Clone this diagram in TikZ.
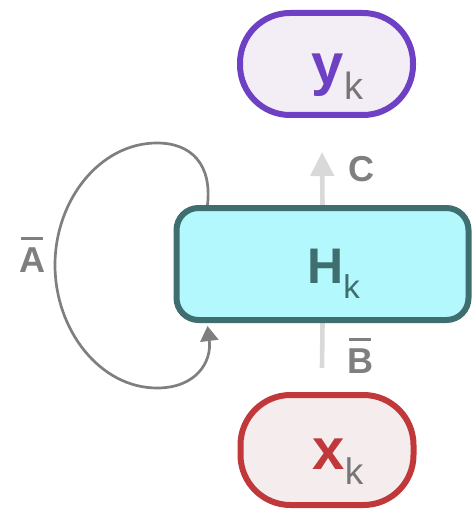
\documentclass[tikz,border=0pt]{standalone}
\usepackage{fontspec}
\setmainfont{Liberation Sans}
\usetikzlibrary{arrows.meta,backgrounds}
\definecolor{plum}{HTML}{6E40C4}
\definecolor{lav}{HTML}{F3EDF5}
\definecolor{tealdk}{HTML}{3F6E70}
\definecolor{aqua}{HTML}{B3F8FC}
\definecolor{brick}{HTML}{C0383A}
\definecolor{blush}{HTML}{F5ECEE}
\definecolor{ash}{HTML}{7F7F7F}
\definecolor{fog}{HTML}{D9D9D9}
\definecolor{subgray}{HTML}{767676}
% letter with a lowered k, shifted down inside its box
\newcommand{\symk}[5]{\raisebox{#5}[0pt][0pt]{\hspace*{11pt}{\fontsize{#3}{#3}\selectfont\bfseries #1}{\fontsize{#4}{#4}\selectfont\raisebox{-7.5pt}{\color{#2}k}}}}
% letter with a bar over it
\newcommand{\barred}[1]{\setbox0\hbox{#1}\rlap{\kern1.2pt\raisebox{\dimexpr\ht0+3.6pt\relax}{\rule{\dimexpr\wd0-2.4pt\relax}{1.5pt}}}\box0}
\tikzset{
  pill/.style={line width=3pt,rounded corners=25pt,minimum width=86.5pt,inner sep=0pt},
  state/.style={draw=tealdk,fill=aqua,line width=3pt,rounded corners=11pt,minimum width=146pt,minimum height=56pt,inner sep=0pt,text=tealdk},
  selfloop/.style={-{Triangle[length=7.5pt,width=9pt]},line width=1.35pt,color=ash},
  feed/.style={line width=2.3pt,color=fog},
  lbl/.style={font=\fontsize{18}{18}\selectfont\bfseries,text=ash,inner sep=0pt,anchor=base},
}
\begin{document}
\begin{tikzpicture}[x=0.5pt,y=-0.5pt]
\useasboundingbox (0,0) rectangle (471,513);
\node[state] (H) at (322.5,264) {\symk{H}{tealdk}{25}{16.5}{-9.5pt}};
\node[pill,draw=plum,fill=lav,minimum height=51pt,text=plum] (Y) at (326.5,64) {\symk{y}{subgray}{29}{19}{-10.5pt}};
\node[pill,draw=brick,fill=blush,minimum height=55pt,text=brick] (X) at (327,450) {\symk{x}{subgray}{29}{18.5}{-9.5pt}};
\coordinate (ctip) at (322,152);
\coordinate (bfoot) at (322,368);
\node[lbl] (lc) at (361,182) {C};
\node[lbl] (lb) at (360,373) {\barred{B}};
\node[lbl] (la) at (32,272) {\barred{A}};
\begin{scope}[on background layer]
\draw[feed,-{Triangle[length=12pt,width=11.5pt]}] (H.north) -- (ctip);
\draw[feed] (bfoot) -- (H.south);
\end{scope}
\draw[selfloop] ([xshift=17pt]H.north west) .. controls (212,165) and (192,143) .. (157,143)
  .. controls (100,143) and (55,200) .. (55,265)
  .. controls (55,330) and (100,388) .. (157,388)
  .. controls (196,388) and (212,362) .. ([xshift=17pt,yshift=-1.5pt]H.south west);
\end{tikzpicture}
\end{document}
